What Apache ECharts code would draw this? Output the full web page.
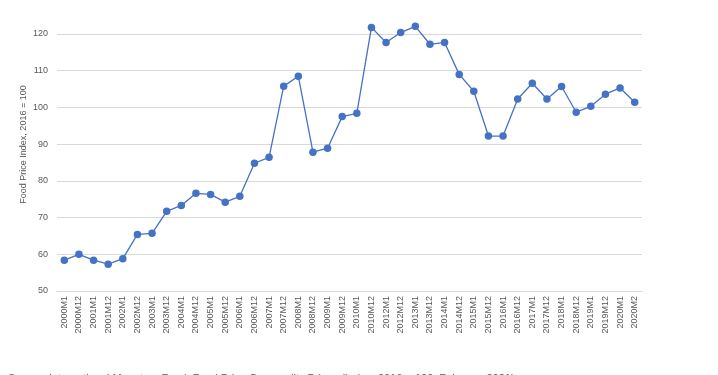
<!DOCTYPE html>
<html>
<head>
<meta charset="utf-8">
<script src="https://cdn.jsdelivr.net/npm/echarts@6/dist/echarts.min.js"></script>
<style>
html,body{margin:0;padding:0;background:#fff;}
#c{width:718px;height:375px;}
</style>
</head>
<body>
<div id="c"></div>
<script>
const categories = ["2000M1","2000M12","2001M1","2001M12","2002M1","2002M12","2003M1","2003M12","2004M1","2004M12","2005M1","2005M12","2006M1","2006M12","2007M1","2007M12","2008M1","2008M12","2009M1","2009M12","2010M1","2010M12","2012M1","2012M12","2013M1","2013M12","2014M1","2014M12","2015M1","2015M12","2016M1","2016M12","2017M1","2017M12","2018M1","2018M12","2019M1","2019M12","2020M1","2020M2"];
const foodPriceIndex = [58.4,60.0,58.4,57.3,58.8,65.4,65.7,71.7,73.3,76.6,76.3,74.2,75.8,84.8,86.4,105.8,108.5,87.8,88.9,97.5,98.4,121.8,117.7,120.4,122.1,117.2,117.7,109.0,104.4,92.2,92.2,102.3,106.6,102.3,105.7,98.7,100.3,103.6,105.3,101.4];
const yTicks = {min: 50, max: 120, interval: 10};
const yTitle = "Food Price Index, 2016 = 100";
const sourceText = "Source: International Monetary Fund, Food Price Commodity Prices (Index, 2016 = 100, February 2021)";

const chart = echarts.init(document.getElementById('c'), null, {renderer:'canvas'});
chart.setOption({
  backgroundColor:'#fff',
  animation:false,
  grid:{left:57, right:76, top:34, bottom:84, containLabel:false},
  xAxis:{
    type:'category', data:categories, boundaryGap:true,
    axisLine:{show:true, lineStyle:{color:'#d9d9d9', width:1}},
    axisTick:{show:false},
    axisLabel:{rotate:90, interval:0, color:'#595959', fontSize:9, fontFamily:'Liberation Sans, Arial', margin:5}
  },
  yAxis:{
    type:'value', min:yTicks.min, max:yTicks.max, interval:yTicks.interval,
    name:yTitle, nameLocation:'middle', nameGap:29, nameRotate:90, nameMoveOverlap:false,
    nameTextStyle:{color:'#595959', fontSize:9, fontFamily:'Liberation Sans, Arial', padding:[0,0,0,36]},
    axisLine:{show:false}, axisTick:{show:false},
    axisLabel:{color:'#595959', fontSize:9, fontFamily:'Liberation Sans, Arial', margin:9},
    splitLine:{lineStyle:{color:'#d9d9d9', width:1}}
  },
  graphic:[{type:'text', left:8, top:373, style:{text:sourceText, fill:'#595959', font:'11px Liberation Sans, Arial'}}],
  series:[{
    type:'line', data:foodPriceIndex, clip:false,
    symbol:'circle', symbolSize:7.5,
    lineStyle:{color:'#4472C4', width:1.3},
    itemStyle:{color:'#4472C4'}
  }]
});
</script>
</body>
</html>
